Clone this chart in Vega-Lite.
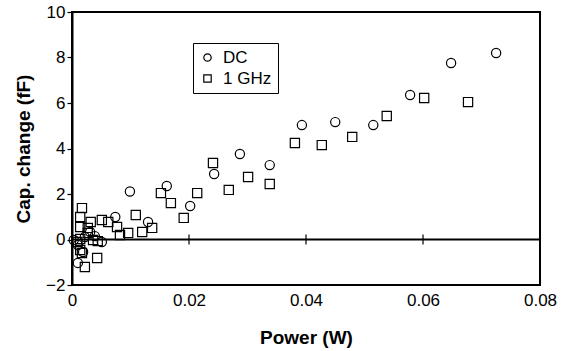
{
  "$schema": "https://vega.github.io/schema/vega-lite/v6.json",
  "autosize": "none",
  "width": 468,
  "height": 273,
  "padding": {"left": 72, "top": 12, "right": 25, "bottom": 66},
  "background": "white",
  "config": {
    "view": {"stroke": "black", "strokeWidth": 2},
    "font": "Liberation Sans",
    "scale": {"continuousPadding": 0}
  },
  "datasets": {
    "points": [
      {"series": "DC", "power": 0.0725, "cap": 8.20},
      {"series": "DC", "power": 0.0648, "cap": 7.76},
      {"series": "DC", "power": 0.0578, "cap": 6.35},
      {"series": "DC", "power": 0.0515, "cap": 5.03},
      {"series": "DC", "power": 0.0450, "cap": 5.16},
      {"series": "DC", "power": 0.0393, "cap": 5.03},
      {"series": "DC", "power": 0.0338, "cap": 3.27},
      {"series": "DC", "power": 0.0287, "cap": 3.76},
      {"series": "DC", "power": 0.0243, "cap": 2.88},
      {"series": "DC", "power": 0.0202, "cap": 1.47},
      {"series": "DC", "power": 0.0162, "cap": 2.35},
      {"series": "DC", "power": 0.0099, "cap": 2.11},
      {"series": "DC", "power": 0.0130, "cap": 0.77},
      {"series": "DC", "power": 0.0074, "cap": 0.99},
      {"series": "DC", "power": 0.0051, "cap": -0.11},
      {"series": "DC", "power": 0.0031, "cap": 0.33},
      {"series": "DC", "power": 0.0022, "cap": 0.11},
      {"series": "DC", "power": 0.0010, "cap": -0.24},
      {"series": "DC", "power": 0.0019, "cap": -0.55},
      {"series": "DC", "power": 0.0010, "cap": -1.03},
      {"series": "DC", "power": 0.0003, "cap": -0.02},
      {"series": "DC", "power": 0.0039, "cap": 0.15},
      {"series": "1 GHz", "power": 0.0677, "cap": 6.04},
      {"series": "1 GHz", "power": 0.0602, "cap": 6.22},
      {"series": "1 GHz", "power": 0.0538, "cap": 5.43},
      {"series": "1 GHz", "power": 0.0479, "cap": 4.51},
      {"series": "1 GHz", "power": 0.0427, "cap": 4.15},
      {"series": "1 GHz", "power": 0.0381, "cap": 4.24},
      {"series": "1 GHz", "power": 0.0338, "cap": 2.44},
      {"series": "1 GHz", "power": 0.0301, "cap": 2.75},
      {"series": "1 GHz", "power": 0.0268, "cap": 2.18},
      {"series": "1 GHz", "power": 0.0241, "cap": 3.36},
      {"series": "1 GHz", "power": 0.0214, "cap": 2.04},
      {"series": "1 GHz", "power": 0.0191, "cap": 0.95},
      {"series": "1 GHz", "power": 0.0169, "cap": 1.60},
      {"series": "1 GHz", "power": 0.0152, "cap": 2.04},
      {"series": "1 GHz", "power": 0.0137, "cap": 0.51},
      {"series": "1 GHz", "power": 0.0120, "cap": 0.33},
      {"series": "1 GHz", "power": 0.0109, "cap": 1.08},
      {"series": "1 GHz", "power": 0.0096, "cap": 0.29},
      {"series": "1 GHz", "power": 0.0082, "cap": 0.20},
      {"series": "1 GHz", "power": 0.0077, "cap": 0.55},
      {"series": "1 GHz", "power": 0.0062, "cap": 0.77},
      {"series": "1 GHz", "power": 0.0051, "cap": 0.86},
      {"series": "1 GHz", "power": 0.0032, "cap": 0.77},
      {"series": "1 GHz", "power": 0.0027, "cap": 0.51},
      {"series": "1 GHz", "power": 0.0027, "cap": 0.29},
      {"series": "1 GHz", "power": 0.0017, "cap": 1.38},
      {"series": "1 GHz", "power": 0.0014, "cap": 0.99},
      {"series": "1 GHz", "power": 0.0014, "cap": 0.55},
      {"series": "1 GHz", "power": 0.0014, "cap": 0.02},
      {"series": "1 GHz", "power": 0.0009, "cap": -0.11},
      {"series": "1 GHz", "power": 0.0036, "cap": -0.02},
      {"series": "1 GHz", "power": 0.0044, "cap": -0.07},
      {"series": "1 GHz", "power": 0.0014, "cap": -0.46},
      {"series": "1 GHz", "power": 0.0017, "cap": -0.59},
      {"series": "1 GHz", "power": 0.0043, "cap": -0.81},
      {"series": "1 GHz", "power": 0.0022, "cap": -1.21}
    ],
    "zeroTicks": [
      {"power": 0.02}, {"power": 0.04}, {"power": 0.06}, {"power": 0.08}
    ],
    "zeroLine": [{"cap": 0}]
  },
  "layer": [
    {
      "data": {"name": "zeroLine"},
      "mark": {"type": "rule", "color": "black", "strokeWidth": 2},
      "encoding": {"y": {"field": "cap", "type": "quantitative"}}
    },
    {
      "data": {"name": "zeroTicks"},
      "mark": {"type": "tick", "orient": "vertical", "color": "black", "opacity": 1, "size": 10, "thickness": 1.2},
      "encoding": {
        "x": {"field": "power", "type": "quantitative"},
        "y": {"datum": 0, "type": "quantitative"}
      }
    },
    {
      "data": {"name": "points"},
      "mark": {"type": "point", "filled": false, "stroke": "black", "strokeWidth": 1.2, "size": 85, "opacity": 1},
      "encoding": {
        "x": {
          "field": "power", "type": "quantitative",
          "scale": {"domain": [0, 0.08], "nice": false, "zero": false, "padding": 0},
          "axis": {
            "title": "Power (W)", "values": [0, 0.02, 0.04, 0.06, 0.08], "format": ".2~f",
            "grid": false, "ticks": false, "domain": false, "labelFlush": false,
            "labelFontSize": 17, "labelColor": "black", "labelPadding": 7,
            "labelFont": "Liberation Sans",
            "titleFontSize": 19, "titleFontWeight": "bold", "titleColor": "black",
            "titleFont": "Liberation Sans", "titlePadding": 20
          }
        },
        "y": {
          "field": "cap", "type": "quantitative",
          "scale": {"domain": [-2, 10], "nice": false, "zero": false, "padding": 0},
          "axis": {
            "title": "Cap. change (fF)", "values": [-2, 0, 2, 4, 6, 8, 10], "format": "d",
            "grid": false, "ticks": true, "tickSize": 5, "tickColor": "black", "tickWidth": 1.2,
            "domain": true, "domainColor": "black", "domainWidth": 2, "labelFlush": false,
            "labelFontSize": 17, "labelColor": "black", "labelPadding": 2,
            "labelFont": "Liberation Sans",
            "titleFontSize": 19, "titleFontWeight": "bold", "titleColor": "black",
            "titleFont": "Liberation Sans", "titlePadding": 12
          }
        },
        "shape": {
          "field": "series", "type": "nominal",
          "scale": {"domain": ["DC", "1 GHz"], "range": ["circle", "square"]},
          "legend": {
            "title": null, "orient": "none", "legendX": 121, "legendY": 31,
            "strokeColor": "black", "padding": 6, "fillColor": "white",
            "labelFontSize": 17, "labelColor": "black", "labelFont": "Liberation Sans",
            "symbolSize": 55, "symbolStrokeColor": "black", "symbolStrokeWidth": 1.2,
            "symbolFillColor": "transparent", "rowPadding": 3, "labelOffset": 7
          }
        }
      }
    }
  ]
}
